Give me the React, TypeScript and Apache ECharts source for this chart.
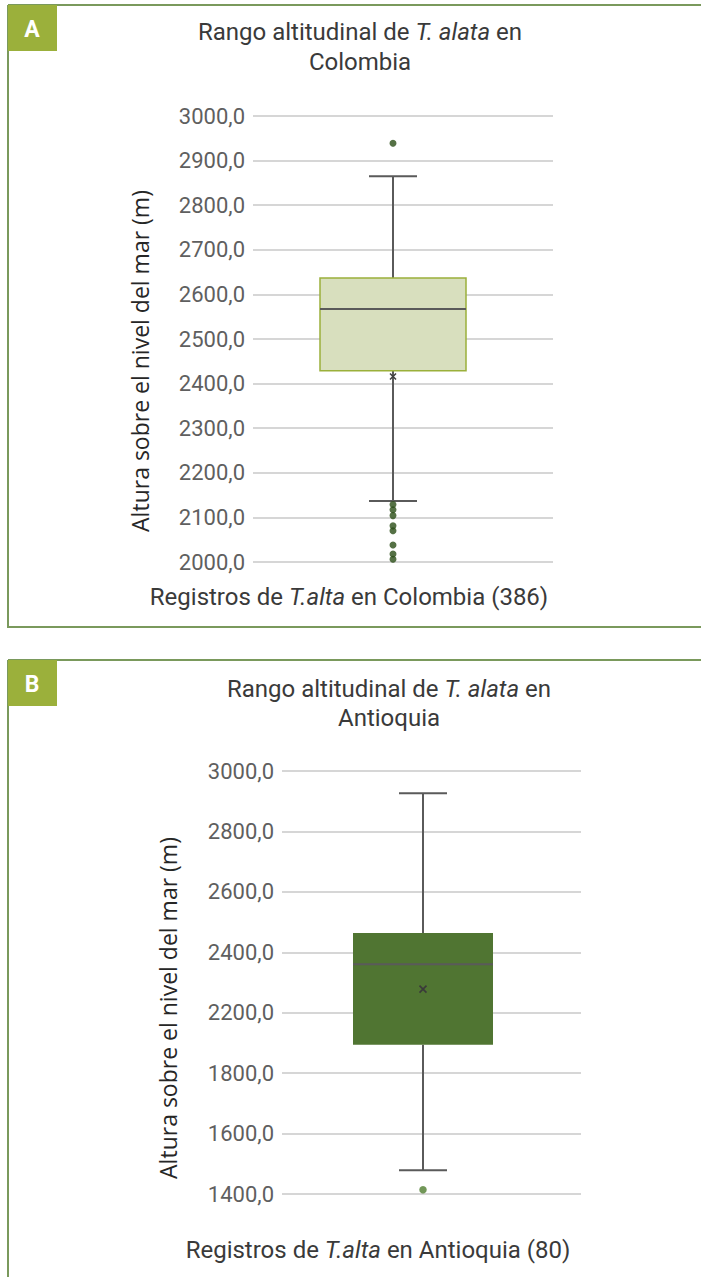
import React, { useEffect, useRef } from "react";
import * as echarts from "echarts";

// ---------- DATA ----------
// Panel A: Colombia
const yTicksA = [2000, 2100, 2200, 2300, 2400, 2500, 2600, 2700, 2800, 2900, 3000];
const categoriesA = ["Colombia"];
// [lower whisker, Q1, median, Q3, upper whisker]
const boxA = [2137, 2429, 2567, 2637, 2865];
const meanA = 2416;
const outliersA = [2939, 2129, 2117, 2104, 2081, 2070, 2038, 2018, 2006];

// Panel B: Antioquia (axis shows these tick labels, evenly spaced)
const yTicksB = [1400, 1600, 1800, 2200, 2400, 2600, 2800, 3000];
const categoriesB = ["Antioquia"];
const boxB = [1479, 1988, 2360, 2464, 2926];
const meanB = 2278;
const outliersB = [1414];

// ---------- HELPERS ----------
const fmt = (v: number) => v.toFixed(1).replace(".", ",");
// position of a value on panel B's evenly spaced tick scale
function toAxisB(v: number): number {
  for (let i = 0; i < yTicksB.length - 1; i++) {
    if (v <= yTicksB[i + 1] || i === yTicksB.length - 2) {
      return i + (v - yTicksB[i]) / (yTicksB[i + 1] - yTicksB[i]);
    }
  }
  return 0;
}

const FRAME = "#7a995c";
const BADGE = "#9bb03b";
const WHISKER = "#5a5a5a";
const GRID = "#c9c9c9";
const TICK = "#5f5f5f";
const TEXT = "#3a3a3a";
const TITLE_SIZE = 24;

function makeRenderItem(boxW: number, capW: number, fill: string, stroke: string, strokeW: number, meanSize: number, meanColor: string) {
  return (params: any, api: any) => {
    const x = api.value(0);
    const lo = api.coord([x, api.value(1)]);
    const q1 = api.coord([x, api.value(2)]);
    const med = api.coord([x, api.value(3)]);
    const q3 = api.coord([x, api.value(4)]);
    const hi = api.coord([x, api.value(5)]);
    const mn = api.coord([x, api.value(6)]);
    const cx = lo[0];
    const ls = { stroke: WHISKER, lineWidth: 2 };
    const h = meanSize / 2;
    return {
      type: "group",
      children: [
        { type: "line", shape: { x1: cx, y1: q3[1], x2: cx, y2: hi[1] }, style: ls },
        { type: "line", shape: { x1: cx, y1: q1[1], x2: cx, y2: lo[1] }, style: ls },
        { type: "line", shape: { x1: cx - capW / 2, y1: hi[1], x2: cx + capW / 2, y2: hi[1] }, style: ls },
        { type: "line", shape: { x1: cx - capW / 2, y1: lo[1], x2: cx + capW / 2, y2: lo[1] }, style: ls },
        {
          type: "rect",
          shape: { x: cx - boxW / 2, y: q3[1], width: boxW, height: q1[1] - q3[1] },
          style: { fill, stroke, lineWidth: strokeW },
        },
        { type: "line", shape: { x1: cx - boxW / 2, y1: med[1], x2: cx + boxW / 2, y2: med[1] }, style: { stroke: "#5a5a5a", lineWidth: 2 } },
        { type: "line", shape: { x1: mn[0] - h, y1: mn[1] - h, x2: mn[0] + h, y2: mn[1] + h }, style: { stroke: meanColor, lineWidth: 1.6 } },
        { type: "line", shape: { x1: mn[0] - h, y1: mn[1] + h, x2: mn[0] + h, y2: mn[1] - h }, style: { stroke: meanColor, lineWidth: 1.6 } },
      ],
    };
  };
}

function richTitle(x: number, y: number, pre: string, ital: string, post: string) {
  return {
    type: "text",
    x,
    y,
    style: {
      text: `{n|${pre}}{i|${ital}}{n|${post}}`,
      align: "center",
      verticalAlign: "middle",
      rich: {
        n: { fontFamily: "Roboto", fontSize: TITLE_SIZE, fill: TEXT },
        i: { fontFamily: "Roboto", fontSize: TITLE_SIZE, fontStyle: "italic", fill: TEXT },
      },
    },
  };
}

function plainText(x: number, y: number, text: string, opts: any = {}) {
  return {
    type: "text",
    x,
    y,
    rotation: opts.rotation || 0,
    style: {
      text,
      align: "center",
      verticalAlign: "middle",
      fontFamily: opts.fontFamily || "Roboto",
      fontSize: opts.fontSize || TITLE_SIZE,
      fontWeight: opts.fontWeight || "normal",
      fill: opts.fill || TEXT,
    },
  };
}

export default function App() {
  const ref = useRef<HTMLDivElement>(null);

  useEffect(() => {
    if (!ref.current) return;
    const chart = echarts.init(ref.current, null, { renderer: "svg" });

    const A = { left: 253, top: 116, width: 300, height: 446, boxWidth: 280 };
    const B = { left: 282, top: 771, width: 299, height: 423, boxWidth: 282 };

    const option: any = {
      animation: false,
      backgroundColor: "#ffffff",
      grid: [
        { left: A.left, top: A.top, width: A.width, height: A.height },
        { left: A.left, top: A.top, width: A.boxWidth, height: A.height },
        { left: B.left, top: B.top, width: B.width, height: B.height },
        { left: B.left, top: B.top, width: B.boxWidth, height: B.height },
      ],
      xAxis: [
        { gridIndex: 0, type: "category", data: categoriesA, show: false },
        { gridIndex: 1, type: "category", data: categoriesA, show: false },
        { gridIndex: 2, type: "category", data: categoriesB, show: false },
        { gridIndex: 3, type: "category", data: categoriesB, show: false },
      ],
      yAxis: [
        {
          gridIndex: 0,
          type: "value",
          min: yTicksA[0],
          max: yTicksA[yTicksA.length - 1],
          interval: 100,
          axisLine: { show: false },
          axisTick: { show: false },
          splitLine: { lineStyle: { color: GRID, width: 1.5 } },
          axisLabel: { formatter: (v: number) => fmt(v), fontFamily: "Roboto", fontSize: 22, color: TICK, margin: 8 },
        },
        { gridIndex: 1, type: "value", min: yTicksA[0], max: yTicksA[yTicksA.length - 1], show: false, splitLine: { show: false } },
        {
          gridIndex: 2,
          type: "value",
          min: 0,
          max: yTicksB.length - 1,
          interval: 1,
          axisLine: { show: false },
          axisTick: { show: false },
          splitLine: { lineStyle: { color: GRID, width: 1.5 } },
          axisLabel: {
            formatter: (v: number) => fmt(yTicksB[Math.round(v)]),
            fontFamily: "Roboto",
            fontSize: 22,
            color: TICK,
            margin: 8,
          },
        },
        { gridIndex: 3, type: "value", min: 0, max: yTicksB.length - 1, show: false, splitLine: { show: false } },
      ],
      series: [
        {
          type: "custom",
          xAxisIndex: 1,
          yAxisIndex: 1,
          renderItem: makeRenderItem(146, 48, "#d8dfbe", "#9bb03b", 1.5, 6, "#404040"),
          data: [[0, ...boxA, meanA]],
          z: 2,
        },
        {
          type: "scatter",
          xAxisIndex: 1,
          yAxisIndex: 1,
          symbol: "circle",
          symbolSize: 7,
          itemStyle: { color: "#2a4d16" },
          data: outliersA.map((v) => [0, v]),
          z: 3,
        },
        {
          type: "custom",
          xAxisIndex: 3,
          yAxisIndex: 3,
          renderItem: makeRenderItem(140, 48, "#507532", "#507532", 0, 7, "#3a3a3a"),
          data: [[0, ...boxB.map(toAxisB), toAxisB(meanB)]],
          z: 2,
        },
        {
          type: "scatter",
          xAxisIndex: 3,
          yAxisIndex: 3,
          symbol: "circle",
          symbolSize: 7.5,
          itemStyle: { color: "#4f7d2e" },
          data: outliersB.map((v) => [0, toAxisB(v)]),
          z: 3,
        },
      ],
      graphic: [
        // Panel A frame
        { type: "line", shape: { x1: 8, y1: 5, x2: 701, y2: 5 }, style: { stroke: FRAME, lineWidth: 2 } },
        { type: "line", shape: { x1: 8, y1: 5, x2: 8, y2: 628 }, style: { stroke: FRAME, lineWidth: 2 } },
        { type: "line", shape: { x1: 8, y1: 627, x2: 701, y2: 627 }, style: { stroke: FRAME, lineWidth: 2 } },
        { type: "rect", shape: { x: 8, y: 5, width: 49, height: 46 }, style: { fill: BADGE } },
        plainText(32, 29, "A", { fontFamily: "Roboto", fontSize: 23, fontWeight: "bold", fill: "#ffffff" }),
        richTitle(360, 32, "Rango altitudinal de ", "T. alata", " en"),
        plainText(360, 62, "Colombia"),
        plainText(140, 361, "Altura sobre el nivel del mar (m)", { fontFamily: "Open Sans", fontSize: 23, fill: "#262626", rotation: Math.PI / 2 }),
        richTitle(349, 597, "Registros de ", "T.alta", " en Colombia (386)"),
        // Panel B frame
        { type: "line", shape: { x1: 8, y1: 660, x2: 701, y2: 660 }, style: { stroke: FRAME, lineWidth: 2 } },
        { type: "line", shape: { x1: 8, y1: 660, x2: 8, y2: 1277 }, style: { stroke: FRAME, lineWidth: 2 } },
        { type: "rect", shape: { x: 8, y: 660, width: 49, height: 46 }, style: { fill: BADGE } },
        plainText(32, 684, "B", { fontFamily: "Roboto", fontSize: 23, fontWeight: "bold", fill: "#ffffff" }),
        richTitle(389, 689, "Rango altitudinal de ", "T. alata", " en"),
        plainText(389, 718, "Antioquia"),
        plainText(168, 1008, "Altura sobre el nivel del mar (m)", { fontFamily: "Open Sans", fontSize: 23, fill: "#262626", rotation: Math.PI / 2 }),
        richTitle(378, 1250, "Registros de ", "T.alta", " en Antioquia (80)"),
      ],
    };

    chart.setOption(option);
    return () => chart.dispose();
  }, []);

  return (
    <div
      ref={ref}
      style={{ position: "absolute", left: 0, top: 0, width: 701, height: 1277, background: "#ffffff" }}
    />
  );
}
